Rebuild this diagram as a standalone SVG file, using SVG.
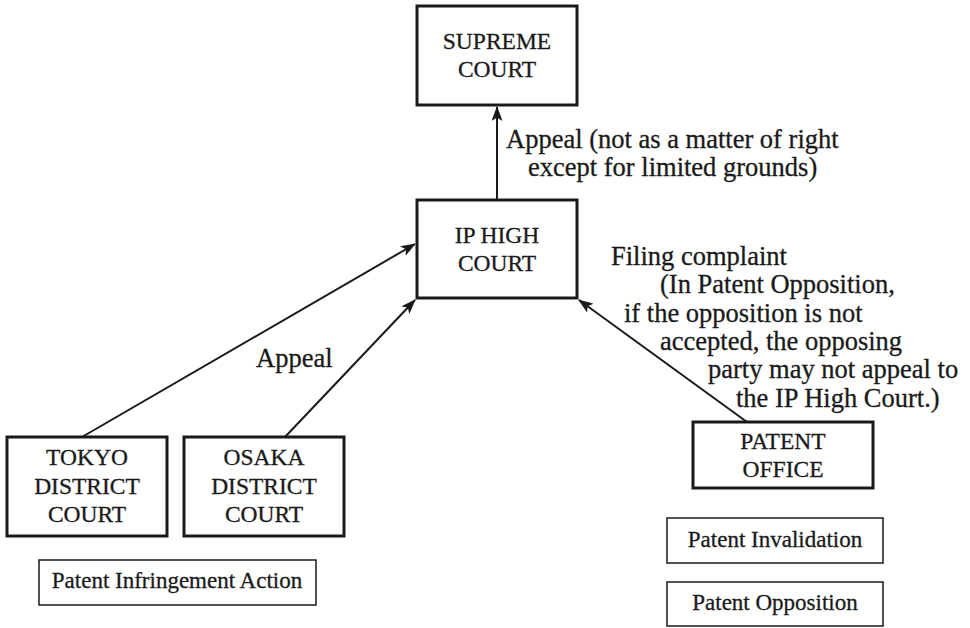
<svg xmlns="http://www.w3.org/2000/svg" width="970" height="628" viewBox="0 0 970 628">
<defs>
<marker id="ah" markerWidth="15" markerHeight="11" refX="14" refY="5.5" orient="auto" markerUnits="userSpaceOnUse">
<path d="M0,0 L15,5.5 L0,11 L3.5,5.5 Z" fill="#1a1a1a"/>
</marker>
<style>
text{font-family:"Liberation Serif","Times New Roman",serif;fill:#1a1a1a;stroke:#1a1a1a;stroke-width:0.3}
.box{fill:#fff;stroke:#1a1a1a;stroke-width:3}
.lbox{fill:#fff;stroke:#1a1a1a;stroke-width:1.5}
.nt{font-size:23.5px;text-anchor:middle}
.lt{font-size:23px;text-anchor:middle}
.ft{font-size:26.5px}
.edge{stroke:#1a1a1a;stroke-width:2;fill:none;marker-end:url(#ah)}
</style>
</defs>
<rect width="970" height="628" fill="#fff"/>
<g id="connectors">
<line class="edge" x1="497" y1="200" x2="497" y2="107"/>
<line class="edge" x1="82" y1="437" x2="415" y2="244"/>
<line class="edge" x1="285" y1="437" x2="415" y2="300"/>
<line class="edge" x1="747" y1="422" x2="579" y2="300"/>
<text class="ft" x="506" y="148">Appeal (not as a matter of right</text>
<text class="ft" x="528" y="176">except for limited grounds)</text>
<text class="ft" x="256" y="367">Appeal</text>
<text class="ft" x="611" y="265">Filing complaint</text>
<text class="ft" x="660" y="293">(In Patent Opposition,</text>
<text class="ft" x="624" y="322">if the opposition is not</text>
<text class="ft" x="660" y="350">accepted, the opposing</text>
<text class="ft" x="708" y="378">party may not appeal to</text>
<text class="ft" x="736" y="407">the IP High Court.)</text>
</g>
<g id="supreme">
<rect class="box" x="417" y="6" width="160" height="99"/>
<text class="nt" x="497" y="49">SUPREME</text>
<text class="nt" x="497" y="77">COURT</text>
</g>
<g id="iphigh">
<rect class="box" x="417" y="200" width="160" height="98"/>
<text class="nt" x="497" y="243">IP HIGH</text>
<text class="nt" x="497" y="271">COURT</text>
</g>
<g id="tokyo">
<rect class="box" x="7" y="437" width="160" height="99"/>
<text class="nt" x="87" y="465">TOKYO</text>
<text class="nt" x="87" y="494">DISTRICT</text>
<text class="nt" x="87" y="522">COURT</text>
</g>
<g id="osaka">
<rect class="box" x="184" y="437" width="160" height="99"/>
<text class="nt" x="264" y="465">OSAKA</text>
<text class="nt" x="264" y="494">DISTRICT</text>
<text class="nt" x="264" y="522">COURT</text>
</g>
<g id="patentoffice">
<rect class="box" x="693" y="422" width="180" height="66"/>
<text class="nt" x="783" y="449">PATENT</text>
<text class="nt" x="783" y="477">OFFICE</text>
</g>
<g id="infringement">
<rect class="lbox" x="39" y="560" width="277" height="45"/>
<text class="lt" x="177" y="588">Patent Infringement Action</text>
</g>
<g id="invalidation">
<rect class="lbox" x="667" y="518" width="216" height="45"/>
<text class="lt" x="775" y="547">Patent Invalidation</text>
</g>
<g id="opposition">
<rect class="lbox" x="667" y="582" width="216" height="44"/>
<text class="lt" x="775" y="610">Patent Opposition</text>
</g>
</svg>
